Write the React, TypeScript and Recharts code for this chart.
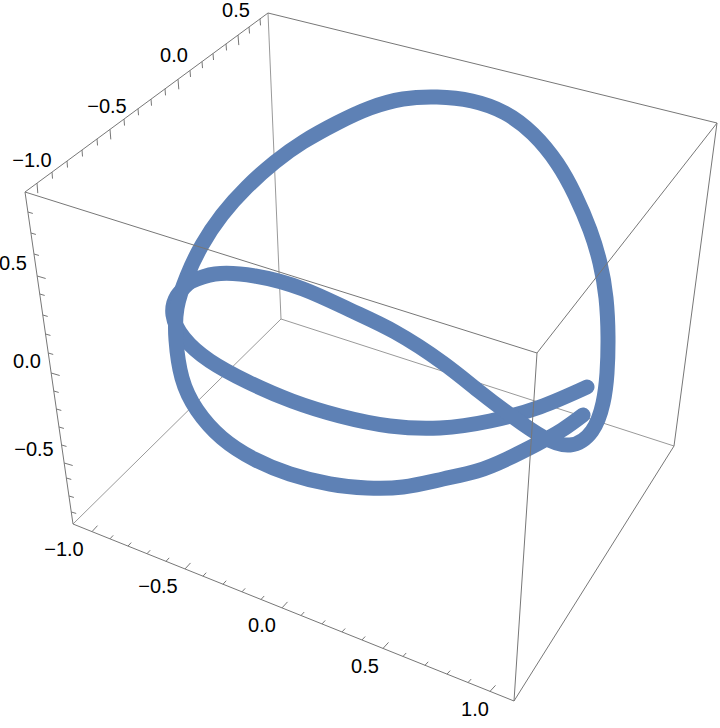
import React from 'react';
import { ComposedChart, Line, XAxis, YAxis, ReferenceLine, ReferenceDot } from 'recharts';

type Pt = { x: number; y: number };

// box corners (plane coordinates of the projected 3D box)
const cornerA: Pt = { x: 25, y: 192 };
const cornerB: Pt = { x: 268, y: 13 };
const cornerC: Pt = { x: 717, y: 123 };
const cornerD: Pt = { x: 537, y: 353 };
const cornerE: Pt = { x: 73, y: 524 };
const cornerF: Pt = { x: 514, y: 701 };
const cornerG: Pt = { x: 281, y: 319 };
const cornerH: Pt = { x: 674, y: 446 };

const backEdges: Pt[][] = [
  [cornerB, cornerG],
  [cornerE, cornerG],
  [cornerG, cornerH],
];
const frontEdges: Pt[][] = [
  [cornerA, cornerB],
  [cornerB, cornerC],
  [cornerC, cornerH],
  [cornerH, cornerF],
  [cornerA, cornerE],
  [cornerE, cornerF],
  [cornerA, cornerD],
  [cornerC, cornerD],
  [cornerD, cornerF],
];

// the space curve, split at the tight turn on the left
const curveStart: Pt[] = [
  { x: 587, y: 387 }, { x: 540, y: 407 }, { x: 490, y: 421 }, { x: 440, y: 428 },
  { x: 390, y: 426 }, { x: 340, y: 416 }, { x: 292, y: 401 }, { x: 248, y: 382 },
  { x: 210, y: 361 }, { x: 184, y: 338 }, { x: 173, y: 315 }, { x: 177, y: 296 },
  { x: 190, y: 282 },
];
const curveRest: Pt[] = [
  { x: 190, y: 282 }, { x: 215, y: 274 }, { x: 255, y: 276 }, { x: 303, y: 289 },
  { x: 350, y: 310 }, { x: 395, y: 332 }, { x: 443, y: 363 }, { x: 480, y: 392 },
  { x: 513, y: 417 }, { x: 543, y: 437 }, { x: 570, y: 445 }, { x: 592, y: 431 },
  { x: 603, y: 403 }, { x: 607, y: 373 }, { x: 608, y: 337 }, { x: 606, y: 298 },
  { x: 600, y: 263 }, { x: 590, y: 230 }, { x: 575, y: 195 }, { x: 557, y: 163 },
  { x: 533, y: 134 }, { x: 505, y: 113 }, { x: 472, y: 101 }, { x: 437, y: 97 },
  { x: 403, y: 99 }, { x: 370, y: 108 }, { x: 337, y: 123 }, { x: 303, y: 142 },
  { x: 275, y: 162 }, { x: 247, y: 187 }, { x: 222, y: 215 }, { x: 202, y: 245 },
  { x: 187, y: 276 }, { x: 177, y: 308 }, { x: 176, y: 340 }, { x: 182, y: 378 },
  { x: 197, y: 410 }, { x: 222, y: 438 }, { x: 254, y: 459 }, { x: 290, y: 474 },
  { x: 330, y: 484 }, { x: 367, y: 488 }, { x: 403, y: 487 }, { x: 443, y: 479 },
  { x: 477, y: 471 }, { x: 507, y: 459 }, { x: 537, y: 444 }, { x: 562, y: 430 },
  { x: 583, y: 415 },
];

// tick positions along each box edge
const tickXs = [92, 110, 128, 147, 166, 185, 203, 223, 242, 261, 282, 301, 322, 342, 362, 383, 403, 425, 447, 468, 490];
const tickYs = [37, 52, 67, 82, 97, 110, 124, 138, 151, 165, 178, 190, 202, 213, 226, 238, 249, 260];
const tickZs = [212, 233, 254, 276, 294, 315, 334, 353, 373, 391, 409, 427, 445, 463, 478, 496, 512];

const xMajor = [92, 185, 282, 383, 490];
const yMajor = [37, 110, 178, 238];
const zMajor = [276, 373, 463];

const tickLabels = [
  { text: '0.5', x: 236, y: 10 },
  { text: '0.0', x: 174, y: 55 },
  { text: '\u22120.5', x: 107, y: 106 },
  { text: '\u22121.0', x: 32, y: 160 },
  { text: '0.5', x: 13, y: 263 },
  { text: '0.0', x: 27, y: 361 },
  { text: '\u22120.5', x: 34, y: 449 },
  { text: '\u22121.0', x: 64, y: 549 },
  { text: '\u22120.5', x: 158, y: 586 },
  { text: '0.0', x: 262, y: 625 },
  { text: '0.5', x: 365, y: 666 },
  { text: '1.0', x: 475, y: 709 },
];

const yOnEdge = (a: Pt, b: Pt, x: number) => a.y + ((x - a.x) * (b.y - a.y)) / (b.x - a.x);
const xOnEdge = (a: Pt, b: Pt, y: number) => a.x + ((y - a.y) * (b.x - a.x)) / (b.y - a.y);

const xSegments = tickXs.map((x) => {
  const y = yOnEdge(cornerE, cornerF, x);
  const k = xMajor.includes(x) ? 1 : 0.58;
  return [{ x, y }, { x: x + 5.5 * k, y: y - 6 * k }];
});
const ySegments = tickYs.map((x) => {
  const y = yOnEdge(cornerA, cornerB, x);
  const k = yMajor.includes(x) ? 1 : 0.65;
  return [{ x, y }, { x: x + 0.8 * k, y: y + 10 * k }];
});
const zSegments = tickZs.map((y) => {
  const x = xOnEdge(cornerA, cornerE, y);
  const k = zMajor.includes(y) ? 1 : 0.58;
  return [{ x, y }, { x: x + 8.5 * k, y: y + 2.5 * k }];
});

const edgeLine = (pts: Pt[], i: string, stroke: string) => (
  <Line
    key={i}
    data={pts}
    dataKey="y"
    type="linear"
    stroke={stroke}
    strokeWidth={1}
    dot={false}
    activeDot={false}
    legendType="none"
    isAnimationActive={false}
  />
);

const curveLine = (pts: Pt[], i: string) => (
  <Line
    key={i}
    data={pts}
    dataKey="y"
    type="natural"
    stroke="#5E81B5"
    strokeWidth={15}
    strokeLinecap="round"
    strokeLinejoin="round"
    dot={false}
    activeDot={false}
    isAnimationActive={false}
  />
);

export default function App() {
  return (
    <div style={{ position: 'absolute', left: 0, top: 0, width: 720, height: 728, background: '#fff' }}>
      <ComposedChart width={720} height={728} margin={{ top: 0, right: 0, bottom: 0, left: 0 }}>
        <XAxis type="number" dataKey="x" domain={[0, 720]} hide allowDataOverflow />
        <YAxis type="number" domain={[0, 728]} reversed hide allowDataOverflow />

        {backEdges.map((pts, i) => edgeLine(pts, `back-${i}`, '#999999'))}

        {curveLine(curveStart, 'curve-start')}
        {curveLine(curveRest, 'curve-rest')}

        {frontEdges.map((pts, i) => edgeLine(pts, `front-${i}`, '#777777'))}

        {[...xSegments, ...ySegments, ...zSegments].map((seg, i) => (
          <ReferenceLine key={i} segment={seg} stroke="#777777" strokeWidth={1} ifOverflow="visible" />
        ))}

        {tickLabels.map((t, i) => (
          <ReferenceDot
            key={i}
            x={t.x}
            y={t.y}
            r={0}
            fill="none"
            stroke="none"
            ifOverflow="visible"
            label={{
              value: t.text,
              position: 'center',
              fill: '#000000',
              fontSize: 20,
              fontFamily: '"Liberation Sans", Arial, sans-serif',
            }}
          />
        ))}
      </ComposedChart>
    </div>
  );
}
